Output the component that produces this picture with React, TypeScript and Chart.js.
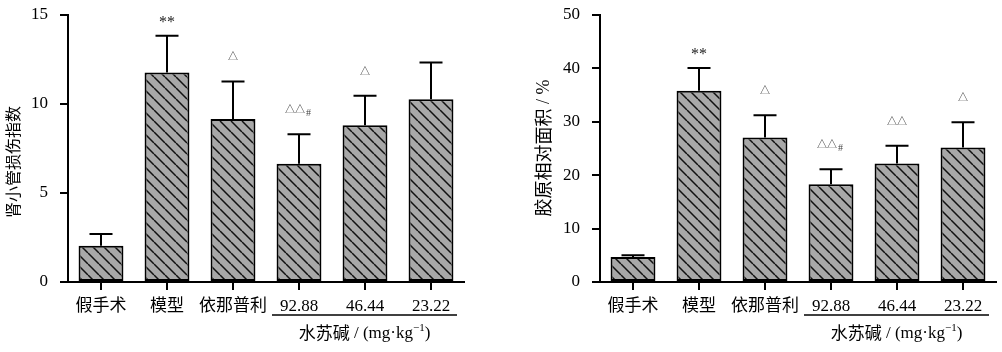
import React, { useEffect, useRef } from 'react';
import { Chart, registerables } from 'chart.js';

Chart.register(...registerables);

const categories = ['假手术', '模型', '依那普利', '92.88', '46.44', '23.22'];

const tubularMeans = [2.03, 11.77, 9.16, 6.64, 8.8, 10.26];
const tubularErrors = [0.67, 2.07, 2.11, 1.66, 1.66, 2.07];
const tubularMarks = ['', '**', '△', '△△#', '△', ''];
const tubularMax = 15;
const tubularStep = 5;
const tubularTitle = '肾小管损伤指数';

const collagenMeans = [4.69, 35.8, 27.07, 18.3, 22.2, 25.2];
const collagenErrors = [0.31, 4.27, 4.18, 2.8, 3.3, 4.7];
const collagenMarks = ['', '**', '△', '△△#', '△△', '△'];
const collagenMax = 50;
const collagenStep = 10;
const collagenTitleCjk = '胶原相对面积';
const collagenTitleUnit = ' / %';

const groupName = '水苏碱';
const groupUnitA = ' / (mg·kg';
const groupUnitSup = '−1';
const groupUnitB = ')';
const groupFirst = 3;
const groupLast = 5;

const SERIF = '"Liberation Serif", "Times New Roman", serif';
const CJK = '"Noto Sans CJK SC", sans-serif';
const MIXED = '"Liberation Serif", "Noto Sans CJK SC", serif';

function makeHatch(ctx: CanvasRenderingContext2D): CanvasPattern | string {
  const size = 11;
  const c = document.createElement('canvas');
  c.width = size;
  c.height = size;
  const p = c.getContext('2d');
  if (!p) return '#a8a8a8';
  p.fillStyle = '#a8a8a8';
  p.fillRect(0, 0, size, size);
  p.strokeStyle = '#111';
  p.lineWidth = 1.5;
  p.beginPath();
  for (let k = -1; k <= 1; k++) {
    p.moveTo(k * size, 0);
    p.lineTo(k * size + size, size);
  }
  p.stroke();
  return ctx.createPattern(c, 'repeat') || '#a8a8a8';
}

type PanelProps = {
  left: number;
  width: number;
  axisWidth: number;
  padRight: number;
  means: number[];
  errors: number[];
  marks: string[];
  yMax: number;
  step: number;
  drawTitle: (ctx: CanvasRenderingContext2D) => void;
};

function Panel(props: PanelProps) {
  const ref = useRef<HTMLCanvasElement | null>(null);
  useEffect(() => {
    const canvas = ref.current;
    if (!canvas) return;
    const ctx = canvas.getContext('2d');
    if (!ctx) return;
    const hatch = makeHatch(ctx);

    const overlay = {
      id: 'overlay',
      afterDatasetsDraw(chart: any) {
        const c: CanvasRenderingContext2D = chart.ctx;
        const xs = chart.scales.x;
        const ys = chart.scales.y;
        c.save();
        // error bars
        c.strokeStyle = '#000';
        c.lineWidth = 2;
        props.means.forEach((m, i) => {
          const x = xs.getPixelForValue(i);
          const yTop = ys.getPixelForValue(m);
          const yErr = ys.getPixelForValue(m + props.errors[i]);
          c.beginPath();
          c.moveTo(x, yTop);
          c.lineTo(x, yErr);
          c.moveTo(x - 11.5, yErr);
          c.lineTo(x + 11.5, yErr);
          c.stroke();
        });
        // significance marks
        props.marks.forEach((mk, i) => {
          if (!mk) return;
          const x = xs.getPixelForValue(i);
          const yErr = ys.getPixelForValue(props.means[i] + props.errors[i]);
          c.textBaseline = 'middle';
          if (mk.startsWith('*')) {
            c.font = '16px ' + SERIF;
            c.fillStyle = '#222';
            c.textAlign = 'center';
            c.fillText(mk, x, yErr - 13);
            return;
          }
          const main = mk.replace('#', '');
          const hasHash = mk.includes('#');
          c.font = '10px ' + CJK;
          const wMain = c.measureText(main).width;
          c.font = '10px ' + SERIF;
          const wHash = hasHash ? c.measureText('#').width + 1 : 0;
          const total = wMain + wHash;
          const x0 = x - total / 2 - (hasHash ? 1 : 0);
          c.textAlign = 'left';
          c.fillStyle = '#444';
          c.font = '10px ' + CJK;
          c.fillText(main, x0, yErr - 25);
          if (hasHash) {
            c.font = '10px ' + SERIF;
            c.fillText('#', x0 + wMain + 1, yErr - 21);
          }
        });
        // group line and label
        const gx0 = xs.getPixelForValue(groupFirst) - 27;
        const gx1 = xs.getPixelForValue(groupLast) + 26;
        const gy = chart.chartArea.bottom + 33;
        c.strokeStyle = '#000';
        c.lineWidth = 1.5;
        c.beginPath();
        c.moveTo(gx0, gy);
        c.lineTo(gx1, gy);
        c.stroke();
        const cy = gy + 18;
        c.font = '17px ' + CJK;
        const w1 = c.measureText(groupName).width;
        c.font = '17px ' + SERIF;
        const w2 = c.measureText(groupUnitA).width;
        c.font = '11px ' + SERIF;
        const w3 = c.measureText(groupUnitSup).width;
        c.font = '17px ' + SERIF;
        const w4 = c.measureText(groupUnitB).width;
        let tx = (gx0 + gx1) / 2 - (w1 + w2 + w3 + w4) / 2;
        c.fillStyle = '#000';
        c.textAlign = 'left';
        c.textBaseline = 'middle';
        c.font = '17px ' + CJK;
        c.fillText(groupName, tx, cy);
        tx += w1;
        c.font = '17px ' + SERIF;
        c.fillText(groupUnitA, tx, cy + 1);
        tx += w2;
        c.font = '11px ' + SERIF;
        c.fillText(groupUnitSup, tx, cy - 5);
        tx += w3;
        c.font = '17px ' + SERIF;
        c.fillText(groupUnitB, tx, cy + 1);
        // y title
        props.drawTitle(c);
        c.restore();
      },
    };

    const chart = new Chart(canvas, {
      type: 'bar',
      data: {
        labels: categories,
        datasets: [
          {
            data: props.means,
            backgroundColor: hatch as any,
            borderColor: '#000',
            borderWidth: 2,
            borderSkipped: false,
            barPercentage: 0.68,
            categoryPercentage: 1,
          },
        ],
      },
      options: {
        responsive: false,
        animation: false,
        layout: { padding: { left: 0, right: props.padRight, top: 15, bottom: 0 } },
        plugins: {
          legend: { display: false },
          tooltip: { enabled: false },
          title: { display: false },
        },
        scales: {
          x: {
            type: 'category',
            offset: true,
            grid: {
              display: true,
              offset: false,
              drawOnChartArea: false,
              drawTicks: true,
              tickLength: 8,
              color: '#000',
              lineWidth: 2,
            },
            border: { display: true, color: '#000', width: 2 },
            ticks: {
              color: '#000',
              font: { family: MIXED, size: 17 },
              padding: 6,
              maxRotation: 0,
              autoSkip: false,
            },
            afterFit: (s: any) => {
              s.height = 70;
              s.paddingLeft = 0;
              s.paddingRight = 0;
            },
          },
          y: {
            min: 0,
            max: props.yMax,
            ticks: {
              stepSize: props.step,
              color: '#000',
              font: { family: SERIF, size: 17 },
              padding: 12,
            },
            grid: {
              display: true,
              drawOnChartArea: false,
              drawTicks: true,
              tickLength: 8,
              color: '#000',
              lineWidth: 2,
            },
            border: { display: true, color: '#000', width: 2 },
            afterFit: (s: any) => {
              s.width = props.axisWidth;
              s.paddingTop = 0;
              s.paddingBottom = 0;
            },
          },
        },
      } as any,
      plugins: [overlay],
    });
    return () => chart.destroy();
  }, []);

  return (
    <canvas
      ref={ref}
      width={props.width}
      height={352}
      style={{ position: 'absolute', left: props.left, top: 0, width: props.width, height: 352 }}
    />
  );
}

function drawTubularTitle(c: CanvasRenderingContext2D) {
  c.save();
  c.translate(13, 162);
  c.rotate(-Math.PI / 2);
  c.font = '16px ' + CJK;
  c.fillStyle = '#000';
  c.textAlign = 'center';
  c.textBaseline = 'middle';
  c.fillText(tubularTitle, 0, 0);
  c.restore();
}

function drawCollagenTitle(c: CanvasRenderingContext2D) {
  c.save();
  c.translate(43, 148);
  c.rotate(-Math.PI / 2);
  c.font = '18px ' + CJK;
  const w1 = c.measureText(collagenTitleCjk).width;
  c.font = '18px ' + SERIF;
  const w2 = c.measureText(collagenTitleUnit).width;
  c.fillStyle = '#000';
  c.textAlign = 'left';
  c.textBaseline = 'middle';
  const x0 = -(w1 + w2) / 2;
  c.font = '18px ' + CJK;
  c.fillText(collagenTitleCjk, x0, 0);
  c.font = '18px ' + SERIF;
  c.fillText(collagenTitleUnit, x0 + w1, 1);
  c.restore();
}

export default function App() {
  return (
    <div style={{ position: 'absolute', left: 0, top: 0, width: 1002, height: 352, background: '#fff' }}>
      <Panel
        left={0}
        width={500}
        axisWidth={68}
        padRight={36}
        means={tubularMeans}
        errors={tubularErrors}
        marks={tubularMarks}
        yMax={tubularMax}
        step={tubularStep}
        drawTitle={drawTubularTitle}
      />
      <Panel
        left={500}
        width={502}
        axisWidth={100}
        padRight={6}
        means={collagenMeans}
        errors={collagenErrors}
        marks={collagenMarks}
        yMax={collagenMax}
        step={collagenStep}
        drawTitle={drawCollagenTitle}
      />
    </div>
  );
}
